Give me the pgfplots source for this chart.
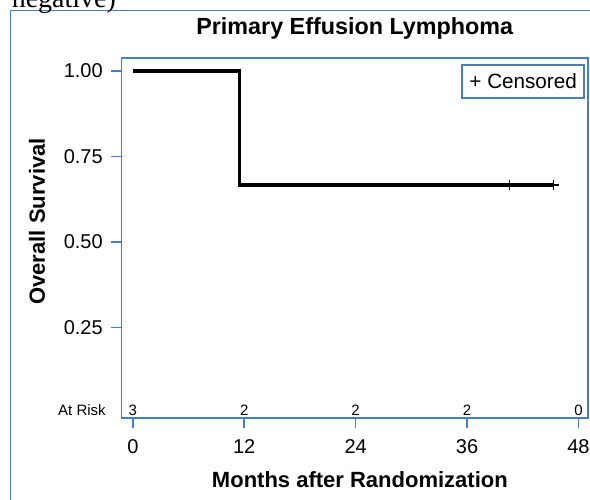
\documentclass[border=0pt]{standalone}
\usepackage{pgfplots}
\pgfplotsset{compat=1.18}
\usepackage{fontspec}
\setmainfont{Liberation Sans}
\newfontfamily\seriffont{Liberation Serif}
\definecolor{axisblue}{RGB}{74,126,187}
\begin{document}
\begin{tikzpicture}
\begin{axis}[
  at={(0,0)}, anchor=south west,
  scale only axis, width=349.875pt, height=270pt,
  xmin=-1.22, xmax=49.03, ymin=-0.0146, ymax=1.038,
  clip=false,
  axis line style={draw=axisblue, line width=1.2pt},
  tick style={draw=axisblue, line width=1.2pt},
  tick align=outside, major tick length=7.5pt,
  xtick={0,12,24,36,48},
  ytick={0.25,0.5,0.75,1}, yticklabels={0.25,0.50,0.75,1.00},
  xtick pos=left, ytick pos=left,
  /pgf/number format/assume math mode=true,
  ticklabel style={font=\fontsize{15}{15}\selectfont, inner sep=0pt},
  yticklabel style={anchor=east, xshift=-6.4pt},
  xticklabel style={anchor=north, yshift=-8.7pt},
  title={\bfseries Primary Effusion Lymphoma},
  title style={font=\fontsize{17.5}{17.5}\selectfont, at={(axis description cs:0.5,1.0417)}, anchor=base},
  xlabel={\bfseries Months after Randomization},
  xlabel style={font=\fontsize{16.5}{16.5}\selectfont, at={(axis description cs:0.511,-0.194)}, anchor=base},
  ylabel={\bfseries Overall Survival},
  ylabel style={font=\fontsize{16.5}{16.5}\selectfont, at={(axis description cs:-0.164,0.546)}, anchor=base},
]
\addplot[const plot, black, line width=2.3pt, forget plot] coordinates {
  (0,1) (11.5,0.6667) (45.3,0.6667)
};
\addplot[only marks, mark=+, mark size=4pt, black, mark options={line width=0.8pt}] coordinates {
  (40.6,0.6667) (45.3,0.6667)
};
\node[anchor=base, font=\fontsize{11.25}{11.25}\selectfont, inner sep=0pt] at (axis cs:0,-0.006) {3};
\node[anchor=base, font=\fontsize{11.25}{11.25}\selectfont, inner sep=0pt] at (axis cs:12,-0.006) {2};
\node[anchor=base, font=\fontsize{11.25}{11.25}\selectfont, inner sep=0pt] at (axis cs:24,-0.006) {2};
\node[anchor=base, font=\fontsize{11.25}{11.25}\selectfont, inner sep=0pt] at (axis cs:36,-0.006) {2};
\node[anchor=base, font=\fontsize{11.25}{11.25}\selectfont, inner sep=0pt] at (axis cs:48,-0.006) {0};
\node[anchor=base east, font=\fontsize{11.25}{11.25}\selectfont, inner sep=0pt] at (axis description cs:-0.0332,0.0083) {At Risk};
\node[anchor=north east, draw=axisblue, line width=1.2pt, minimum width=91.5pt, minimum height=25pt, inner sep=0pt, font=\fontsize{15.5}{15.5}\selectfont, fill=white] at (axis description cs:0.9935,0.9835) {+ Censored};
\end{axis}
% outer frame and clipped caption text from the page above
\draw[axisblue, line width=0.8pt] (360pt,305.625pt) -- (-83.25pt,305.625pt) -- (-83.25pt,-70pt);
\node[anchor=base west, inner sep=0pt, font=\seriffont\fontsize{21}{21}\selectfont] at (-82.5pt,307.9pt) {negative)};
\pgfresetboundingbox
\useasboundingbox (-91.125pt,-61.5pt) rectangle (351.375pt,313.5pt);
\end{tikzpicture}
\end{document}
